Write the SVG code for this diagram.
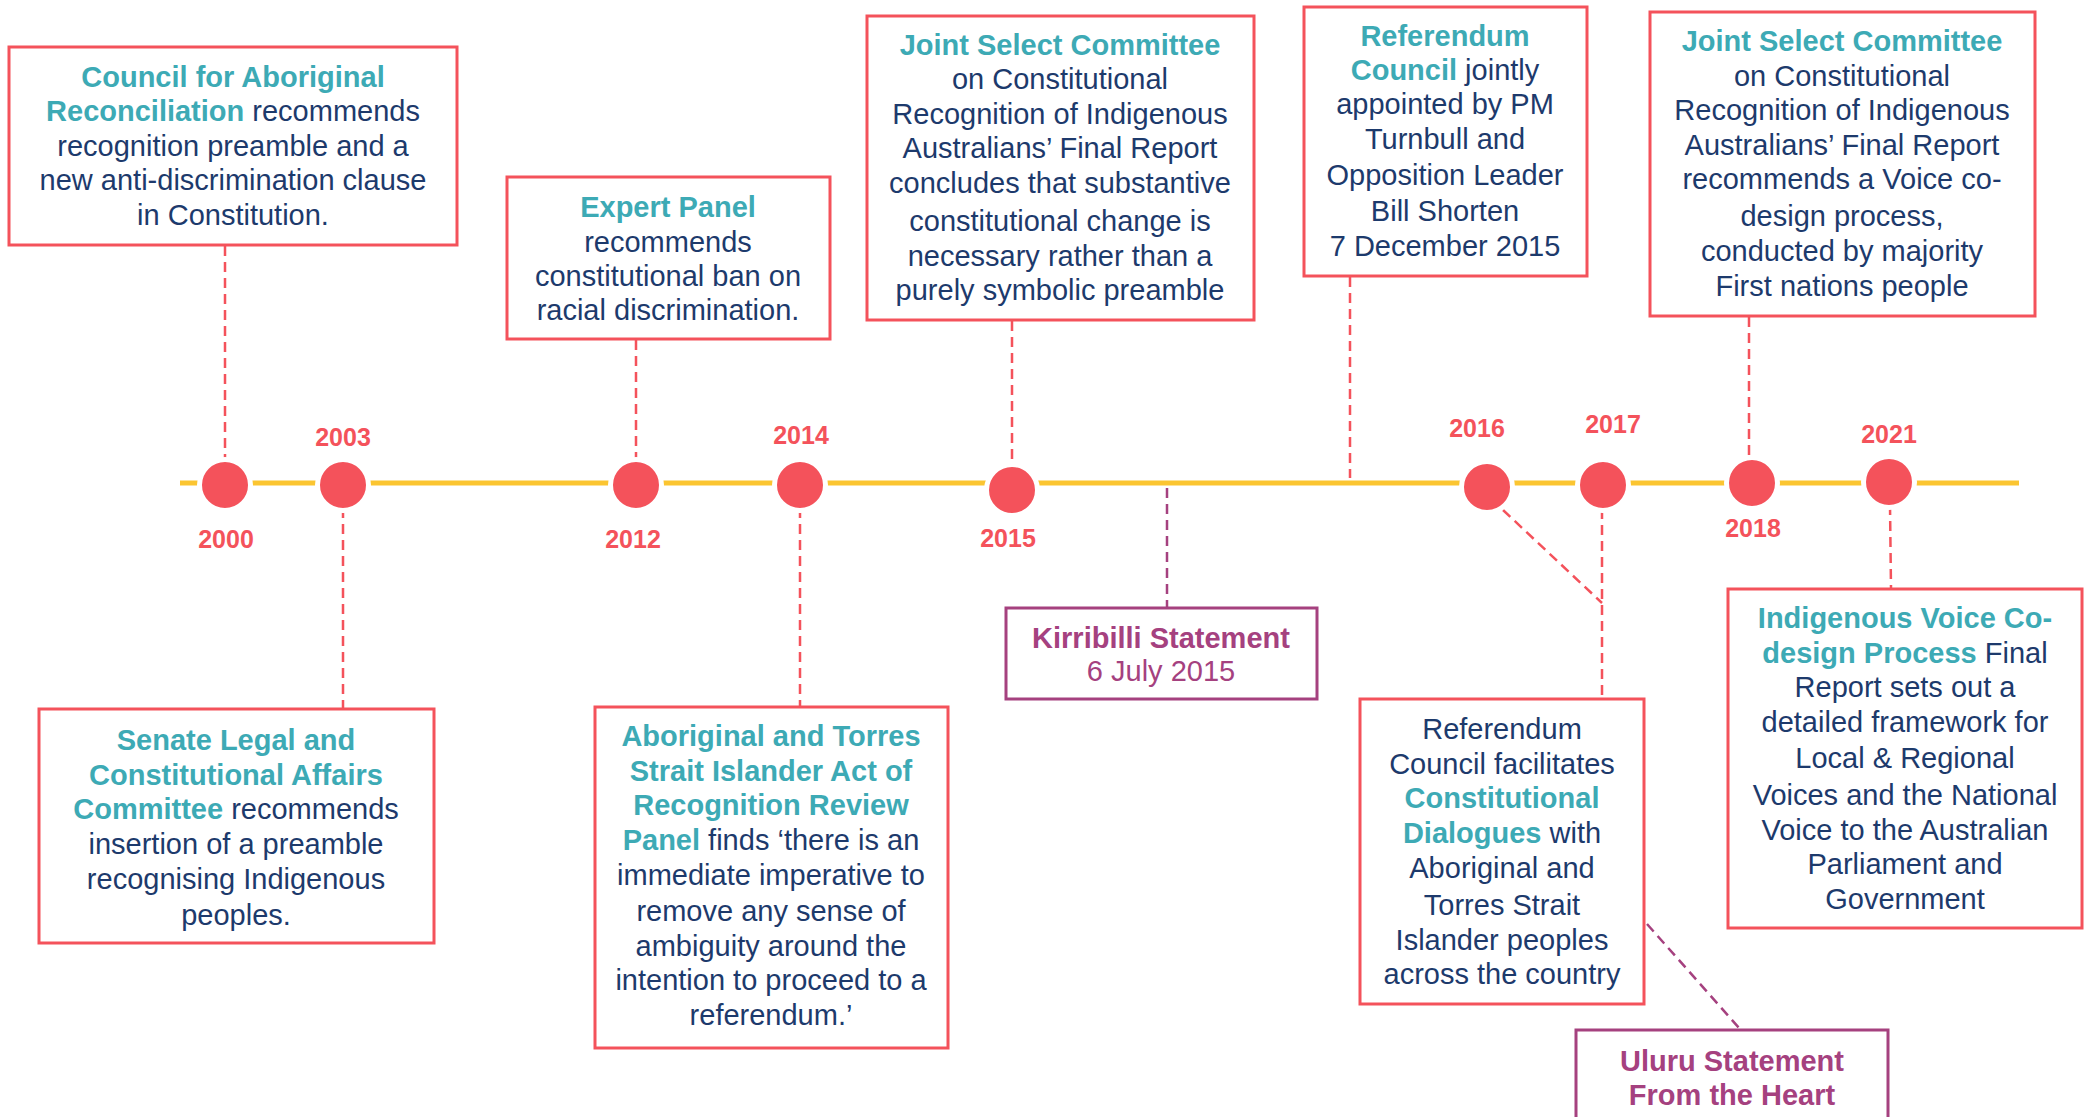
<svg xmlns="http://www.w3.org/2000/svg" width="2092" height="1117" viewBox="0 0 2092 1117">
<style>
text{font-family:"Liberation Sans",Arial,sans-serif;font-size:29px;fill:#1D3A6C;text-anchor:middle}
.h{font-weight:bold;fill:#3DAAB5}
.p{fill:#A5417F}
.pb{font-weight:bold;fill:#A5417F}
.yr{font-weight:bold;fill:#F4525B;font-size:25px}
.box{fill:#fff;stroke:#F4525B;stroke-width:3}
.pbox{fill:#fff;stroke:#A5417F;stroke-width:3}
.dr{stroke:#F4525B;stroke-width:2.5;stroke-dasharray:10 6;fill:none}
.dp{stroke:#A5417F;stroke-width:2.5;stroke-dasharray:10 6;fill:none}
.dot{fill:#F4525B;stroke:#fff;stroke-width:5}
</style>
<rect width="2092" height="1117" fill="#fff"/>
<g id="timeline">
<line x1="180" y1="483" x2="2019" y2="483" stroke="#FBC531" stroke-width="5"/>
</g>
<g id="connectors">
<line class="dr" x1="225" y1="246" x2="225" y2="462"/>
<line class="dr" x1="343" y1="508" x2="343" y2="708"/>
<line class="dr" x1="636" y1="340" x2="636" y2="462"/>
<line class="dr" x1="800" y1="508" x2="800" y2="706"/>
<line class="dr" x1="1012" y1="321" x2="1012" y2="467"/>
<line class="dp" x1="1167" y1="488" x2="1167" y2="607"/>
<line class="dr" x1="1350" y1="277" x2="1350" y2="478"/>
<line class="dr" x1="1503" y1="510" x2="1602" y2="603"/>
<line class="dr" x1="1602" y1="509" x2="1602" y2="698"/>
<line class="dr" x1="1749" y1="317" x2="1749" y2="460"/>
<line class="dr" x1="1890" y1="505" x2="1891" y2="588"/>
<line class="dp" x1="1647" y1="924" x2="1740" y2="1029"/>
</g>
<g id="dots">
<circle class="dot" cx="225" cy="485" r="25.5"/>
<circle class="dot" cx="343" cy="485" r="25.5"/>
<circle class="dot" cx="636" cy="485" r="25.5"/>
<circle class="dot" cx="800" cy="485" r="25.5"/>
<circle class="dot" cx="1012" cy="490" r="25.5"/>
<circle class="dot" cx="1487" cy="487" r="25.5"/>
<circle class="dot" cx="1603" cy="485" r="25.5"/>
<circle class="dot" cx="1752" cy="483" r="25.5"/>
<circle class="dot" cx="1889" cy="482" r="25.5"/>
</g>
<g id="years">
<text class="yr" x="226" y="548">2000</text>
<text class="yr" x="343" y="446">2003</text>
<text class="yr" x="633" y="548">2012</text>
<text class="yr" x="801" y="444">2014</text>
<text class="yr" x="1008" y="547">2015</text>
<text class="yr" x="1477" y="437">2016</text>
<text class="yr" x="1613" y="433">2017</text>
<text class="yr" x="1753" y="537">2018</text>
<text class="yr" x="1889" y="443">2021</text>
</g>
<g id="node-council">
<rect class="box" x="9" y="47" width="448" height="198"/>
<text x="233" y="87"><tspan class="h">Council for Aboriginal</tspan></text>
<text x="233" y="121"><tspan class="h">Reconciliation</tspan> recommends</text>
<text x="233" y="156">recognition preamble and a</text>
<text x="233" y="190">new anti-discrimination clause</text>
<text x="233" y="225">in Constitution.</text>
</g>
<g id="node-senate">
<rect class="box" x="39" y="709" width="395" height="234"/>
<text x="236" y="750"><tspan class="h">Senate Legal and</tspan></text>
<text x="236" y="785"><tspan class="h">Constitutional Affairs</tspan></text>
<text x="236" y="819"><tspan class="h">Committee</tspan> recommends</text>
<text x="236" y="854">insertion of a preamble</text>
<text x="236" y="889">recognising Indigenous</text>
<text x="236" y="925">peoples.</text>
</g>
<g id="node-expert">
<rect class="box" x="507" y="177" width="323" height="162"/>
<text x="668" y="217"><tspan class="h">Expert Panel</tspan></text>
<text x="668" y="252">recommends</text>
<text x="668" y="286">constitutional ban on</text>
<text x="668" y="320">racial discrimination.</text>
</g>
<g id="node-review">
<rect class="box" x="595" y="707" width="353" height="341"/>
<text x="771" y="746"><tspan class="h">Aboriginal and Torres</tspan></text>
<text x="771" y="781"><tspan class="h">Strait Islander Act of</tspan></text>
<text x="771" y="815"><tspan class="h">Recognition Review</tspan></text>
<text x="771" y="850"><tspan class="h">Panel</tspan> finds ‘there is an</text>
<text x="771" y="885">immediate imperative to</text>
<text x="771" y="921">remove any sense of</text>
<text x="771" y="956">ambiguity around the</text>
<text x="771" y="990">intention to proceed to a</text>
<text x="771" y="1025">referendum.’</text>
</g>
<g id="node-joint2015">
<rect class="box" x="867" y="16" width="387" height="304"/>
<text x="1060" y="55"><tspan class="h">Joint Select Committee</tspan></text>
<text x="1060" y="89">on Constitutional</text>
<text x="1060" y="124">Recognition of Indigenous</text>
<text x="1060" y="158">Australians’ Final Report</text>
<text x="1060" y="193">concludes that substantive</text>
<text x="1060" y="231">constitutional change is</text>
<text x="1060" y="266">necessary rather than a</text>
<text x="1060" y="300">purely symbolic preamble</text>
</g>
<g id="node-kirribilli">
<rect class="pbox" x="1006" y="608" width="311" height="91"/>
<text class="pb" x="1161" y="648">Kirribilli Statement</text>
<text class="p" x="1161" y="681">6 July 2015</text>
</g>
<g id="node-refcouncil">
<rect class="box" x="1304" y="7" width="283" height="269"/>
<text x="1445" y="46"><tspan class="h">Referendum</tspan></text>
<text x="1445" y="80"><tspan class="h">Council</tspan> jointly</text>
<text x="1445" y="114">appointed by PM</text>
<text x="1445" y="149">Turnbull and</text>
<text x="1445" y="185">Opposition Leader</text>
<text x="1445" y="221">Bill Shorten</text>
<text x="1445" y="256">7 December 2015</text>
</g>
<g id="node-joint2018">
<rect class="box" x="1650" y="12" width="385" height="304"/>
<text x="1842" y="51"><tspan class="h">Joint Select Committee</tspan></text>
<text x="1842" y="86">on Constitutional</text>
<text x="1842" y="120">Recognition of Indigenous</text>
<text x="1842" y="155">Australians’ Final Report</text>
<text x="1842" y="189">recommends a Voice co-</text>
<text x="1842" y="226">design process,</text>
<text x="1842" y="261">conducted by majority</text>
<text x="1842" y="296">First nations people</text>
</g>
<g id="node-dialogues">
<rect class="box" x="1360" y="699" width="284" height="305"/>
<text x="1502" y="739">Referendum</text>
<text x="1502" y="774">Council facilitates</text>
<text x="1502" y="808"><tspan class="h">Constitutional</tspan></text>
<text x="1502" y="843"><tspan class="h">Dialogues</tspan> with</text>
<text x="1502" y="878">Aboriginal and</text>
<text x="1502" y="915">Torres Strait</text>
<text x="1502" y="950">Islander peoples</text>
<text x="1502" y="984">across the country</text>
</g>
<g id="node-uluru">
<rect class="pbox" x="1576" y="1030" width="312" height="100"/>
<text class="pb" x="1732" y="1071">Uluru Statement</text>
<text class="pb" x="1732" y="1105">From the Heart</text>
</g>
<g id="node-codesign">
<rect class="box" x="1728" y="589" width="354" height="339"/>
<text x="1905" y="628"><tspan class="h">Indigenous Voice Co-</tspan></text>
<text x="1905" y="663"><tspan class="h">design Process</tspan> Final</text>
<text x="1905" y="697">Report sets out a</text>
<text x="1905" y="732">detailed framework for</text>
<text x="1905" y="768">Local &amp; Regional</text>
<text x="1905" y="805">Voices and the National</text>
<text x="1905" y="840">Voice to the Australian</text>
<text x="1905" y="874">Parliament and</text>
<text x="1905" y="909">Government</text>
</g>
</svg>
